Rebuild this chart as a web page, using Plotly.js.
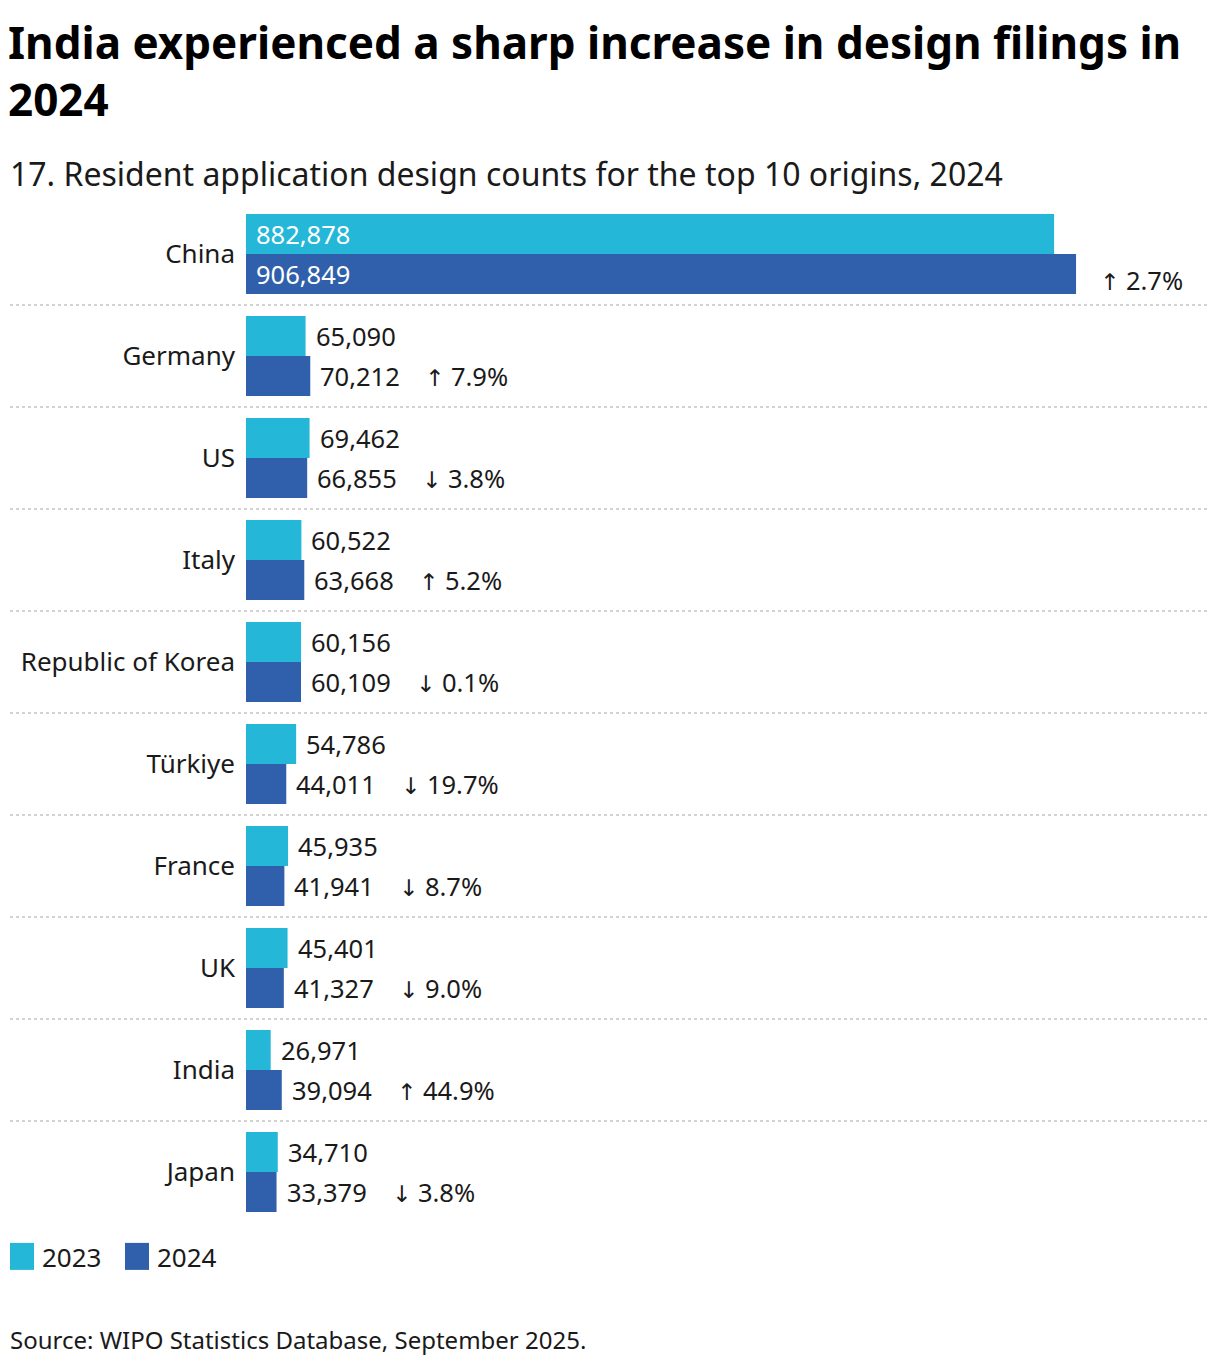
<!DOCTYPE html>
<html>
<head>
<meta charset="utf-8">
<script src="https://cdn.plot.ly/plotly-3.0.1.min.js"></script>
<style>body{margin:0;background:#fff;overflow:hidden;} #chart{width:1220px;height:1366px;}</style>
</head>
<body>
<div id="chart"></div>
<script>
// ---- data ----
var origins = ["China", "Germany", "US", "Italy", "Republic of Korea", "Türkiye", "France", "UK", "India", "Japan"];
var counts2023 = [882878, 65090, 69462, 60522, 60156, 54786, 45935, 45401, 26971, 34710];
var counts2024 = [906849, 70212, 66855, 63668, 60109, 44011, 41941, 41327, 39094, 33379];
var changeDirections = ["↑", "↑", "↓", "↑", "↓", "↓", "↓", "↓", "↑", "↓"];
var changePercents = ["2.7%", "7.9%", "3.8%", "5.2%", "0.1%", "19.7%", "8.7%", "9.0%", "44.9%", "3.8%"];
var seriesNames = ["2023", "2024"];

// ---- style ----
var C23 = "#25b7d7", C24 = "#3060ac", TXT = "#1a1a1a";
var FONT = "Noto Sans, Open Sans, sans-serif";
var W = 1220, H = 1366, ML = 246, MR = 12, MT = 203, MB = 143;
var plotW = W - ML - MR, plotH = H - MT - MB;
var px2paperX = function (px) { return (px - ML) / plotW; };
var px2paperY = function (py) { return (H - MB - py) / plotH; };

var traces = [
  { type: "bar", orientation: "h", name: seriesNames[0], y: origins, x: counts2023,
    marker: { color: C23 }, hoverinfo: "x+y" },
  { type: "bar", orientation: "h", name: seriesNames[1], y: origins, x: counts2024,
    marker: { color: C24 }, hoverinfo: "x+y" }
];

var fmt = function (v) { return v.toLocaleString("en-US"); };
var annotations = [];
var shapes = [];
origins.forEach(function (o, i) {
  [counts2023, counts2024].forEach(function (arr, s) {
    var v = arr[i];
    var inside = v > 500000;
    annotations.push({
      x: inside ? 0 : v, y: o, xref: "x", yref: "y",
      xanchor: "left", yanchor: "middle", xshift: 8, yshift: s === 0 ? 20 : -20,
      text: fmt(v), showarrow: false,
      font: { family: FONT, size: 25.5, color: inside ? "#ffffff" : TXT }
    });
  });
  var big = counts2024[i] > 500000;
  annotations.push({
    x: counts2024[i], y: o, xref: "x", yref: "y",
    xanchor: "left", yanchor: "middle", xshift: big ? 22 : 113, yshift: big ? -26 : -20,
    text: "<span style=\"font-family:'DejaVu Sans';font-size:23px\">" + changeDirections[i] + "</span> " + changePercents[i],
    showarrow: false,
    font: { family: FONT, size: 25.5, color: TXT }
  });
  if (i < origins.length - 1) {
    shapes.push({
      type: "line", xref: "paper", yref: "y",
      x0: px2paperX(10), x1: 1, y0: i + 0.5, y1: i + 0.5,
      line: { color: "#c4c4c4", width: 1.5, dash: "dot" }
    });
  }
});

annotations.push({
  xref: "paper", yref: "paper", x: px2paperX(8), y: px2paperY(173),
  xanchor: "left", yanchor: "middle", showarrow: false,
  text: "17. Resident application design counts for the top 10 origins, 2024",
  font: { family: FONT, size: 32, color: TXT }
});
annotations.push({
  xref: "paper", yref: "paper", x: px2paperX(8), y: px2paperY(1339),
  xanchor: "left", yanchor: "middle", showarrow: false,
  text: "Source: WIPO Statistics Database, September 2025.",
  font: { family: FONT, size: 24, color: TXT }
});

var layout = {
  width: W, height: H,
  margin: { l: ML, r: MR, t: MT, b: MB, pad: 0, autoexpand: false },
  paper_bgcolor: "#ffffff", plot_bgcolor: "#ffffff",
  font: { family: FONT, color: TXT },
  title: {
    text: "<b>India experienced a sharp increase in design filings in<br>2024</b>",
    font: { family: FONT, size: 44, color: "#000000" },
    xref: "container", yref: "container", x: 8 / W, xanchor: "left",
    y: 1 - 59 / H, yanchor: "top"
  },
  barmode: "group", bargap: 0.216, bargroupgap: 0,
  xaxis: { range: [0, 1051000], visible: false, showgrid: false, zeroline: false, fixedrange: true },
  yaxis: {
    type: "category", autorange: "reversed", showgrid: false, zeroline: false, showline: false,
    ticks: "", ticklabelstandoff: 10, automargin: false,
    tickfont: { family: FONT, size: 26, color: TXT }, fixedrange: true
  },
  showlegend: true,
  legend: {
    orientation: "h", xref: "container", yref: "container",
    x: 2 / W, xanchor: "left", y: 1 - 1233 / H, yanchor: "top",
    entrywidth: 70, entrywidthmode: "pixels",
    font: { family: FONT, size: 26, color: TXT }, traceorder: "normal",
    itemclick: false, itemdoubleclick: false
  },
  annotations: annotations,
  shapes: shapes,
  hovermode: false
};

Plotly.newPlot("chart", traces, layout, { displayModeBar: false, staticPlot: true }).then(function (gd) {
  var pts = gd.querySelectorAll(".legend .legendpoints path");
  pts.forEach(function (p) {
    p.setAttribute("d", "M12,13.5H-12V-13.5H12Z");
  });
});
</script>
</body>
</html>
